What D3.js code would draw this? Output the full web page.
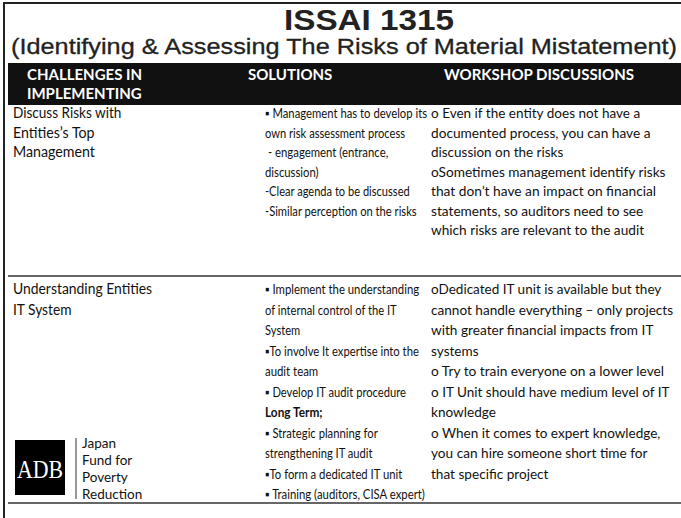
<!DOCTYPE html>
<html><head><meta charset="utf-8">
<script src="https://cdn.jsdelivr.net/npm/d3@7"></script>
<style>html,body{margin:0;padding:0;background:#fff;}svg{display:block;}</style>
</head><body>
<script>
// ---- data ----
const titleText = "ISSAI 1315";
const subtitleText = "(Identifying & Assessing The Risks of Material Mistatement)";
const headerLabels = [["CHALLENGES IN", "IMPLEMENTING"], ["SOLUTIONS"], ["WORKSHOP DISCUSSIONS"]];
const row1Challenge = ["Discuss Risks with", "Entities\u2019s Top", "Management"];
const row1Solutions = ["\u25AA Management has to develop its", "own risk assessment process", " - engagement (entrance,", "discussion)", "-Clear agenda to be discussed", "-Similar perception on the risks"];
const row1Discussions = ["o Even if the entity does not have a", "documented process, you can have a", "discussion on the risks", "oSometimes management identify risks", "that don\u2019t have an impact on financial", "statements, so auditors need to see", "which risks are relevant to the audit"];
const row2Challenge = ["Understanding Entities", "IT System"];
const row2Solutions = ["\u25AA Implement the understanding", "of internal control of the IT", "System", "\u25AATo involve It expertise into the", "audit team", "\u25AA Develop IT audit procedure", "Long Term;", "\u25AA Strategic planning for", "strengthening IT audit", "\u25AATo form a dedicated IT unit", "\u25AA Training (auditors, CISA expert)"];
const row2Discussions = ["oDedicated IT unit is available but they", "cannot handle everything \u2013 only projects", "with greater financial impacts from IT", "systems", "o Try to train everyone on a lower level", "o IT Unit should have medium level of IT", "knowledge", "o When it comes to expert knowledge,", "you can hire someone short time for", "that specific project"];
const boldLines = ["Long Term;"];
const logoMark = "ADB";
const logoLines = ["Japan", "Fund for", "Poverty", "Reduction"];

// approximate Calibri advance widths (em) used to give each line its original width
const calibri = {" ": .226, a: .479, b: .525, c: .423, d: .525, e: .498, f: .305, g: .471, h: .525, i: .229, j: .239, k: .455, l: .229, m: .799, n: .525, o: .527, p: .525, q: .525, r: .349, s: .391, t: .335, u: .525, v: .452, w: .715, x: .433, y: .453, z: .395,
  A: .579, B: .544, C: .533, D: .615, E: .488, F: .459, G: .631, H: .623, I: .252, J: .319, K: .520, L: .420, M: .855, N: .646, O: .662, P: .517, Q: .673, R: .543, S: .459, T: .487, U: .642, V: .567, W: .890, X: .519, Y: .487, Z: .468,
  "(": .303, ")": .303, ",": .250, ".": .252, "-": .306, "\u2013": .498, "\u2019": .250, ";": .268, "&": .682, "\u25AA": .45};
const emWidth = s => Array.from(s).reduce((a, ch) => a + (calibri[ch] ?? .5), 0);

// ---- layout ----
const W = 681, H = 518;
const svg = d3.select("body").append("svg").attr("width", W).attr("height", H);
svg.append("rect").attr("width", W).attr("height", H).attr("fill", "#fff");

const colX = d3.scaleOrdinal().domain([0, 1, 2]).range([13, 265, 431]);
const colK = d3.scaleOrdinal().domain([0, 1, 2]).range([15.0, 12.0, 14.6]);   // px per Calibri em
const colSize = d3.scaleOrdinal().domain([0, 1, 2]).range([14.5, 13, 14.2]);
const headX = d3.scaleOrdinal().domain([0, 1, 2]).range([27, 248, 444]);
const rowTops = [118, 294];
const rowStep = [19.5, 20.5];
const lineY = (row) => d3.scaleLinear().domain([0, 1]).range([rowTops[row], rowTops[row] + rowStep[row]]);

// frame lines
const ink = "#222";
svg.append("line").attr("x1", 4).attr("x2", W).attr("y1", 3).attr("y2", 3).attr("stroke", ink).attr("stroke-width", 2);
svg.append("line").attr("x1", 4).attr("x2", 4).attr("y1", 2).attr("y2", H).attr("stroke", ink).attr("stroke-width", 2);

// title
svg.append("text").attr("x", 369).attr("y", 30).attr("text-anchor", "middle")
  .attr("font-family", "Liberation Sans, Arial, sans-serif").attr("font-weight", "bold")
  .attr("font-size", 29).attr("textLength", 170).attr("lengthAdjust", "spacingAndGlyphs")
  .attr("fill", "#222").text(titleText);

svg.append("text").attr("x", 11).attr("y", 54)
  .attr("font-family", "Liberation Sans, Arial, sans-serif")
  .attr("font-size", 22.5).attr("textLength", 666).attr("lengthAdjust", "spacingAndGlyphs")
  .attr("fill", "#222").attr("stroke", "#222").attr("stroke-width", 0.3).text(subtitleText);

// header band
svg.append("rect").attr("x", 8).attr("y", 63).attr("width", W - 8).attr("height", 42).attr("fill", "#111");
headerLabels.forEach((lines, c) => {
  lines.forEach((t, i) => {
    svg.append("text").attr("x", headX(c)).attr("y", 80 + i * 19)
      .attr("font-family", "Lato, sans-serif").attr("font-weight", "bold")
      .attr("font-size", 15).attr("fill", "#fff").text(t);
  });
});

// body rows
const bodyFont = "Lato, Calibri, sans-serif";
const rowsData = [[row1Challenge, row1Solutions, row1Discussions], [row2Challenge, row2Solutions, row2Discussions]];
rowsData.forEach((cols, r) => {
  const y = lineY(r);
  cols.forEach((lines, c) => {
    svg.append("g").selectAll("text").data(lines).join("text")
      .attr("x", colX(c)).attr("y", (d, i) => y(i))
      .attr("font-family", bodyFont).attr("font-size", colSize(c))
      .attr("font-weight", d => boldLines.includes(d) ? "bold" : "normal")
      .attr("textLength", d => emWidth(d) * colK(c) * (boldLines.includes(d) ? 1.05 : 1))
      .attr("lengthAdjust", "spacingAndGlyphs")
      .attr("fill", "#111").attr("xml:space", "preserve").style("white-space", "pre").text(d => d);
  });
});

// row separators
svg.append("line").attr("x1", 8).attr("x2", W).attr("y1", 276).attr("y2", 276).attr("stroke", "#333").attr("stroke-width", 1.6);
svg.append("line").attr("x1", 8).attr("x2", W).attr("y1", 503).attr("y2", 503).attr("stroke", "#333").attr("stroke-width", 1.6);

// logo
svg.append("rect").attr("x", 15).attr("y", 440).attr("width", 50).attr("height", 55).attr("fill", "#000");
svg.append("text").attr("x", 40).attr("y", 478).attr("text-anchor", "middle")
  .attr("font-family", "Liberation Serif, Times New Roman, serif").attr("font-size", 26)
  .attr("textLength", 46).attr("lengthAdjust", "spacingAndGlyphs")
  .attr("fill", "#fff").text(logoMark);
svg.append("line").attr("x1", 76).attr("x2", 76).attr("y1", 438).attr("y2", 499).attr("stroke", "#333").attr("stroke-width", 1);
svg.append("g").selectAll("text").data(logoLines).join("text")
  .attr("x", 82).attr("y", (d, i) => 448 + i * 17)
  .attr("font-family", bodyFont).attr("font-size", 13.5).attr("fill", "#111").text(d => d);
</script>
</body></html>
